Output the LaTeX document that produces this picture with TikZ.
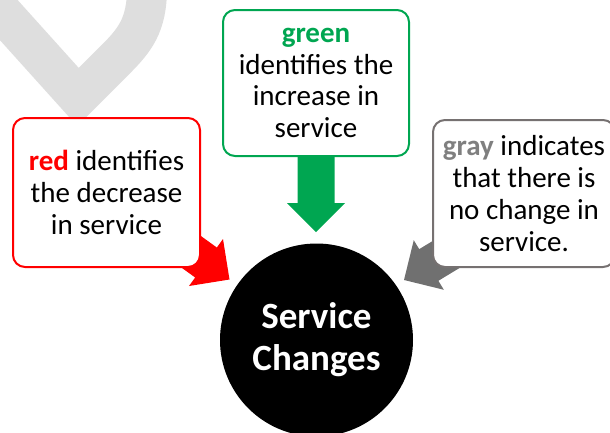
\documentclass[tikz,border=0pt]{standalone}
\usepackage{fontspec}
\setmainfont{Carlito}
\usetikzlibrary{calc}
\definecolor{myred}{RGB}{255,0,0}
\definecolor{mygreen}{RGB}{0,166,81}
\definecolor{mygrayline}{RGB}{118,113,113}
\definecolor{mygrayarrow}{RGB}{112,112,112}
\definecolor{mygraytext}{RGB}{127,127,127}
\definecolor{wmark}{RGB}{222,222,222}
\newcommand\myblockarrow[3]{%
  \coordinate (#2b) at ($(#2)!29pt!(#1)$);
  \fill[#3] ($(#1)!18.5pt!90:(#2)$) -- ($(#2b)!18.5pt!90:(#2)$) -- ($(#2b)!29pt!90:(#2)$) -- (#2)
    -- ($(#2b)!29pt!-90:(#2)$) -- ($(#2b)!18.5pt!-90:(#2)$) -- ($(#1)!18.5pt!-90:(#2)$) -- cycle;}
\tikzset{
  infobox/.style={draw, line width=2pt, rounded corners=12pt, fill=white, align=center,
    inner sep=0pt, font=\fontsize{29}{31.8}\selectfont},
  hub/.style={circle, fill=black, text=white, align=center, inner sep=0pt,
    minimum size=193pt, font=\fontsize{37}{42}\selectfont\bfseries}
}
\begin{document}
\begin{tikzpicture}[x=1pt,y=-1pt]
\useasboundingbox (0,0) rectangle (610,432);
% watermark
\draw[wmark, line width=40pt] (-12,-3) -- (78,97) -- (115,60) .. controls (135,40) and (147,25) .. (147,-12);
% arrow anchors
\coordinate (ra) at (132,209);
\coordinate (rt) at (229.5,279.5);
\coordinate (ga) at (316,130);
\coordinate (gt) at (316,232);
\coordinate (ya) at (498,223);
\coordinate (yt) at (404,280);
\myblockarrow{ra}{rt}{myred}
\myblockarrow{ga}{gt}{mygreen}
\myblockarrow{ya}{yt}{mygrayarrow}
% boxes
\node[infobox, draw=myred, minimum width=187pt, minimum height=149pt] (redbox) at (106.5,192.5)
  {{\bfseries\color{myred}red} identifies\\the decrease\\in service};
\node[infobox, draw=mygreen, minimum width=186pt, minimum height=146pt] (greenbox) at (316,83)
  {{\bfseries\color{mygreen}green}\\identifies the\\increase in\\service};
\node[infobox, draw=mygrayline, minimum width=182pt, minimum height=147pt] (graybox) at (524,193.5)
  {{\bfseries\color{mygraytext}gray} indicates\\that there is\\no change in\\service.\hspace*{0pt}};
\node[hub] (hub) at (316.5,340) {Service\\Changes};
\end{tikzpicture}
\end{document}
